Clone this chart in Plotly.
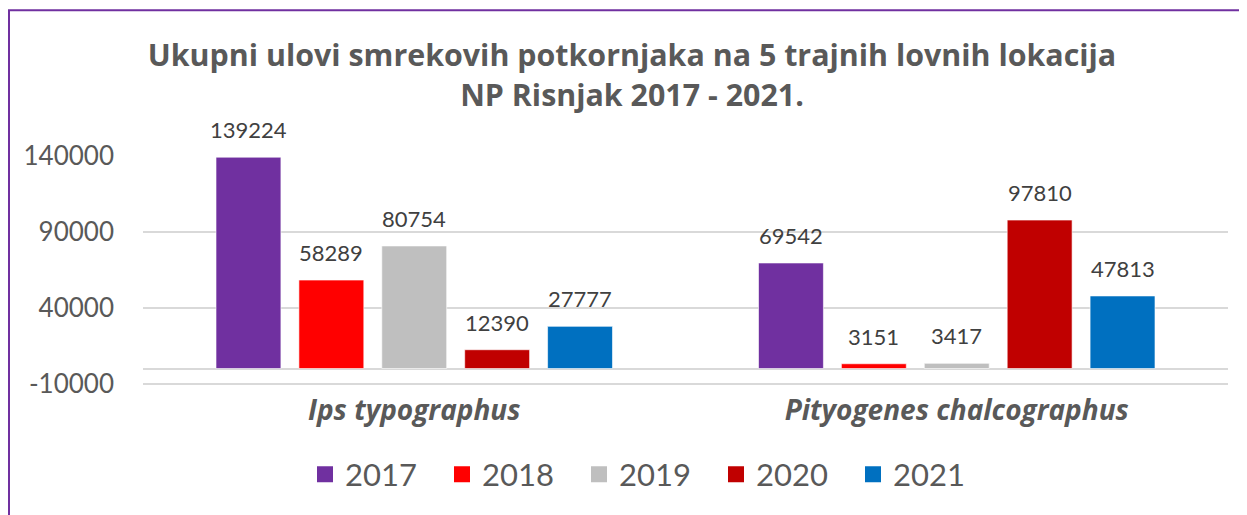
import plotly.graph_objects as go

categories = ["Ips typographus", "Pityogenes chalcographus"]
years = ["2017", "2018", "2019", "2020", "2021"]
values = {
    "2017": [139224, 69542],
    "2018": [58289, 3151],
    "2019": [80754, 3417],
    "2020": [12390, 97810],
    "2021": [27777, 47813],
}
colors = ["#7030A0", "#FF0000", "#BFBFBF", "#C00000", "#0070C0"]
y_ticks = [-10000, 40000, 90000, 140000]
y_range = [-11500, 140000]

# figure is drawn inside an 8px page margin, so the canvas is slightly smaller
W, H = 1239, 507
L, R = 135, 1220
T = 148                       # pixel of y=140000
PX_PER_UNIT = 228 / 150000    # -10000..140000 spans 228 px
B = T + (y_range[1] - y_range[0]) * PX_PER_UNIT
BARGAP, GROUPGAP = 0.236, 0.217

fig = go.Figure()
for yr, col in zip(years, colors):
    fig.add_trace(go.Bar(
        x=categories, y=values[yr], name=yr, showlegend=False,
        marker=dict(color=col, line=dict(color="rgba(255,255,255,0.6)", width=1)),
        cliponaxis=False, hoverinfo="x+y+name",
    ))
    fig.add_trace(go.Scatter(
        x=[None], y=[None], mode="markers", name=yr,
        marker=dict(symbol="square", color=col, size=18),
        showlegend=True,
    ))

# data labels above bars
cat_px = (R - L) / len(categories)
slot_px = cat_px * (1 - BARGAP) / len(years)
for i, yr in enumerate(years):
    for c, v in zip(categories, values[yr]):
        fig.add_annotation(
            x=c, y=v, xref="x", yref="y", text=str(v), showarrow=False,
            xshift=(i - (len(years) - 1) / 2) * slot_px, yanchor="bottom", yshift=12,
            font=dict(family="Lato, Open Sans, sans-serif", size=22, color="#404040"),
        )

def px_to_paper_x(px):
    return (px - L) / (R - L)

def px_to_paper_y(py):
    return (B - py) / (B - T)

fig.update_layout(
    width=W, height=H,
    margin=dict(l=L, r=W - R, t=T, b=H - B, autoexpand=False),
    paper_bgcolor="white", plot_bgcolor="white",
    barmode="group", bargap=BARGAP, bargroupgap=GROUPGAP,
    title=dict(
        text="Ukupni ulovi smrekovih potkornjaka na 5 trajnih lovnih lokacija<br>NP Risnjak 2017 - 2021.",
        x=px_to_paper_x(624), xref="paper", xanchor="center", y=(H - 58) / H, yanchor="middle", yref="container",
        font=dict(family="Open Sans, sans-serif", size=30.4, color="#595959", weight="bold"),
    ),
    xaxis=dict(
        showgrid=False, showline=False, ticks="", automargin=False,
        tickfont=dict(family="Open Sans, sans-serif", size=28, color="#595959", style="italic", weight="bold"),
        ticklabelstandoff=5,
    ),
    yaxis=dict(
        range=y_range, tickvals=y_ticks, ticktext=[str(v) for v in y_ticks],
        showgrid=True, gridcolor="#D9D9D9", gridwidth=2, automargin=False,
        zeroline=True, zerolinecolor="#D9D9D9", zerolinewidth=2,
        showline=False, ticks="",
        tickfont=dict(family="Lato, Open Sans, sans-serif", size=26, color="#595959"),
        ticklabelstandoff=28,
    ),
    legend=dict(
        orientation="h", x=px_to_paper_x(297), xanchor="left", y=px_to_paper_y(467), yanchor="middle",
        font=dict(family="Lato, Open Sans, sans-serif", size=31, color="#595959"),
        itemwidth=30, traceorder="normal", entrywidth=92, entrywidthmode="pixels",
    ),
    showlegend=True,
)

fig.add_shape(
    type="rect", xref="paper", yref="paper",
    x0=px_to_paper_x(1), x1=px_to_paper_x(1260),
    y0=px_to_paper_y(530), y1=px_to_paper_y(2),
    line=dict(color="#7030A0", width=2), fillcolor="rgba(0,0,0,0)", layer="below",
)

fig.write_html("out.html")
